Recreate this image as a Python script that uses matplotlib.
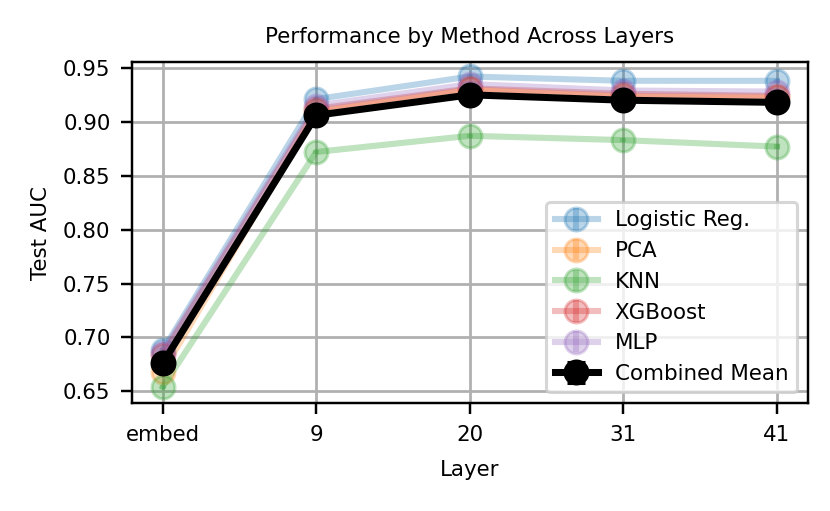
import numpy as np
import matplotlib
matplotlib.use("Agg")
import matplotlib.pyplot as plt

layers = ["embed", "9", "20", "31", "41"]

methods = ["Logistic Reg.", "PCA", "KNN", "XGBoost", "MLP"]
colors = ["#1f77b4", "#ff7f0e", "#2ca02c", "#d62728", "#9467bd"]

logistic = [0.688, 0.921, 0.942, 0.938, 0.938]
pca = [0.668, 0.910, 0.930, 0.924, 0.923]
knn = [0.654, 0.872, 0.887, 0.883, 0.877]
xgboost = [0.684, 0.912, 0.931, 0.926, 0.924]
mlp = [0.686, 0.915, 0.935, 0.929, 0.928]

# per-method spread across seeds (tiny, hidden under the markers)
method_err = [0.002, 0.002, 0.002, 0.002, 0.002]

combined_mean = [0.676, 0.906, 0.925, 0.920, 0.918]
combined_err = [0.004, 0.003, 0.003, 0.003, 0.003]

series = [logistic, pca, knn, xgboost, mlp]

plt.rcParams["font.size"] = 7
fig, ax = plt.subplots(figsize=(830 / 220, 511 / 220), dpi=220)

x = np.arange(len(layers))
for name, vals, c in zip(methods, series, colors):
    ax.errorbar(x, vals, yerr=method_err, marker="o", markersize=7.5,
                linewidth=2, capsize=0, color=c, alpha=0.3, label=name)

ax.errorbar(x, combined_mean, yerr=combined_err, marker="o", markersize=7.5,
            linewidth=2.3, capsize=3, color="black", label="Combined Mean")

ax.set_xticks(x)
ax.set_xticklabels(layers)
ax.set_ylim(0.639, 0.9556)
ax.set_xlabel("Layer", labelpad=5)
ax.set_ylabel("Test AUC")
ax.set_title("Performance by Method Across Layers", fontsize=7)
ax.grid(True, linewidth=0.9)
ax.legend(loc="lower right", fontsize=7)

fig.subplots_adjust(left=0.159, right=0.973, bottom=0.211, top=0.879)
fig.savefig("out.png", dpi=220)
